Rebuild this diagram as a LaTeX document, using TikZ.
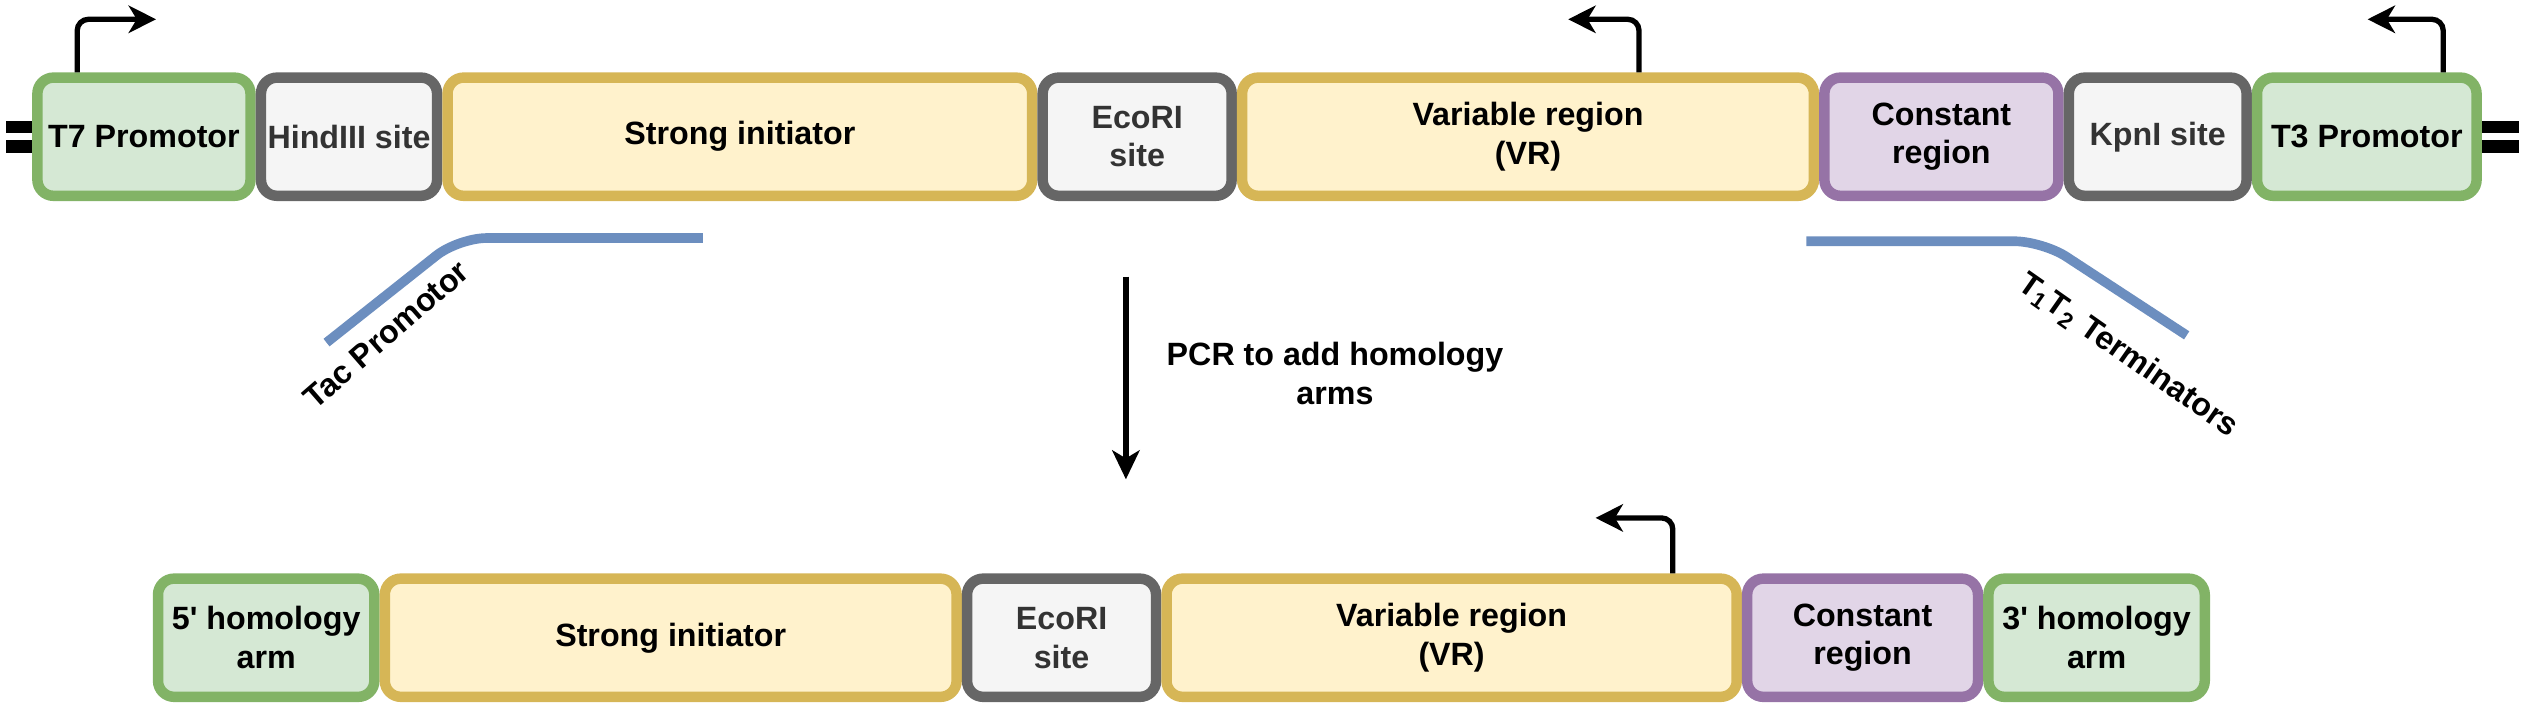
\documentclass[tikz,border=0pt]{standalone}
\usepackage{fontspec}
\setmainfont{Liberation Sans}
\usepackage{tikz}
\usetikzlibrary{positioning}
\usetikzlibrary{arrows.meta}

\definecolor{greenfill}{HTML}{D5E8D4}
\definecolor{greenline}{HTML}{82B366}
\definecolor{greyfill}{HTML}{F5F5F5}
\definecolor{greyline}{HTML}{666666}
\definecolor{greytext}{HTML}{333333}
\definecolor{yellowfill}{HTML}{FFF2CC}
\definecolor{yellowline}{HTML}{D6B656}
\definecolor{purplefill}{HTML}{E1D5E7}
\definecolor{purpleline}{HTML}{9673A6}
\definecolor{blueline}{HTML}{6C8EBF}

\tikzset{
  labelfont/.style={font=\fontsize{11.4}{13.7}\selectfont\bfseries, align=center},
  part/.style={labelfont, rectangle, rounded corners=0.2cm, line width=0.13cm,
    minimum height=1.47cm, inner sep=1pt},
  promo/.style={part, draw=greenline, fill=greenfill},
  site/.style={part, draw=greyline, fill=greyfill, text=greytext},
  coding/.style={part, draw=yellowline, fill=yellowfill},
  constant/.style={part, draw=purpleline, fill=purplefill},
  tss/.style={line width=0.066cm, rounded corners=0.14cm,
    -{Stealth[length=0.34cm, width=0.34cm, inset=0.1cm]}},
  pcr/.style={line width=0.07cm, -{Stealth[length=0.36cm, width=0.34cm, inset=0.1cm]}},
  region/.style={line width=0.12cm, draw=blueline, rounded corners=0.35cm},
}

\begin{document}
\begin{tikzpicture}
\useasboundingbox (0,0) rectangle (31.36,-8.78);

% Top construct
\node[promo, minimum width=2.65cm] (t7) at (1.79,-1.70) {T7 Promotor};
\node[site, minimum width=2.19cm, right=0pt of t7] (hind) {HindIII site};
\node[coding, minimum width=7.27cm, right=0pt of hind] (init) {Strong initiator};
\node[site, minimum width=2.35cm, right=0pt of init] (ecori) {EcoRI\\site};
\node[coding, minimum width=7.11cm, right=0pt of ecori] (vr) {Variable region\\(VR)};
\node[constant, minimum width=2.91cm, right=0pt of vr] (cr) {Constant\\region};
\node[site, minimum width=2.21cm, right=0pt of cr] (kpn) {KpnI site};
\node[promo, minimum width=2.73cm, right=0pt of kpn] (t3) {T3 Promotor};

% Plasmid ends
\fill ([yshift=0.2cm]t7.west) rectangle ++(-0.32,-0.16);
\fill ([yshift=-0.04cm]t7.west) rectangle ++(-0.32,-0.16);
\fill ([yshift=0.2cm]t3.east) rectangle ++(0.46,-0.16);
\fill ([yshift=-0.04cm]t3.east) rectangle ++(0.46,-0.16);

% Bottom construct
\node[promo, minimum width=2.69cm] (arm5) at (3.31,-7.93) {5\textquotesingle{} homology\\arm};
\node[coding, minimum width=7.11cm, right=0pt of arm5] (init2) {Strong initiator};
\node[site, minimum width=2.35cm, right=0pt of init2] (ecori2) {EcoRI\\site};
\node[coding, minimum width=7.09cm, right=0pt of ecori2] (vr2) {Variable region\\(VR)};
\node[constant, minimum width=2.87cm, right=0pt of vr2] (cr2) {Constant\\region};
\node[promo, minimum width=2.69cm, right=0pt of cr2] (arm3) {3\textquotesingle{} homology\\arm};

% Transcription starts
\coordinate (t7tip) at (1.94,-0.24);
\coordinate (vrtip) at (19.5,-0.24);
\coordinate (t3tip) at (29.44,-0.24);
\coordinate (vr2tip) at (19.84,-6.44);
\draw[tss] ([xshift=0.56cm]t7.north west) |- (t7tip);
\draw[tss] ([xshift=5.0cm]vr.north west) |- (vrtip);
\draw[tss] ([xshift=-0.48cm]t3.north east) |- (t3tip);
\draw[tss] ([xshift=6.36cm]vr2.north west) |- (vr2tip);

% Tac promotor and terminators
\coordinate (tacA) at (4.06,-4.26);
\coordinate (tacB) at (5.70,-2.96);
\coordinate (tacC) at (8.74,-2.96);
\draw[region] (tacA) -- (tacB) -- (tacC);
\node[labelfont, rotate=41] (tac) at (4.80,-4.16) {Tac Promotor};

\coordinate (termA) at (22.46,-3.0);
\coordinate (termB) at (25.40,-3.0);
\coordinate (termC) at (27.19,-4.17);
\draw[region] (termA) -- (termB) -- (termC);
\node[labelfont, rotate=-35] (term) at (26.46,-4.42) {T\textsubscript{1}T\textsubscript{2} Terminators};

% PCR step
\coordinate (pcrtop) at (14.0,-3.44);
\coordinate (pcrbot) at (14.0,-5.96);
\draw[pcr] (pcrtop) -- (pcrbot);
\node[labelfont] (pcrlabel) at (16.6,-4.64) {PCR to add homology\\arms};
\end{tikzpicture}
\end{document}
